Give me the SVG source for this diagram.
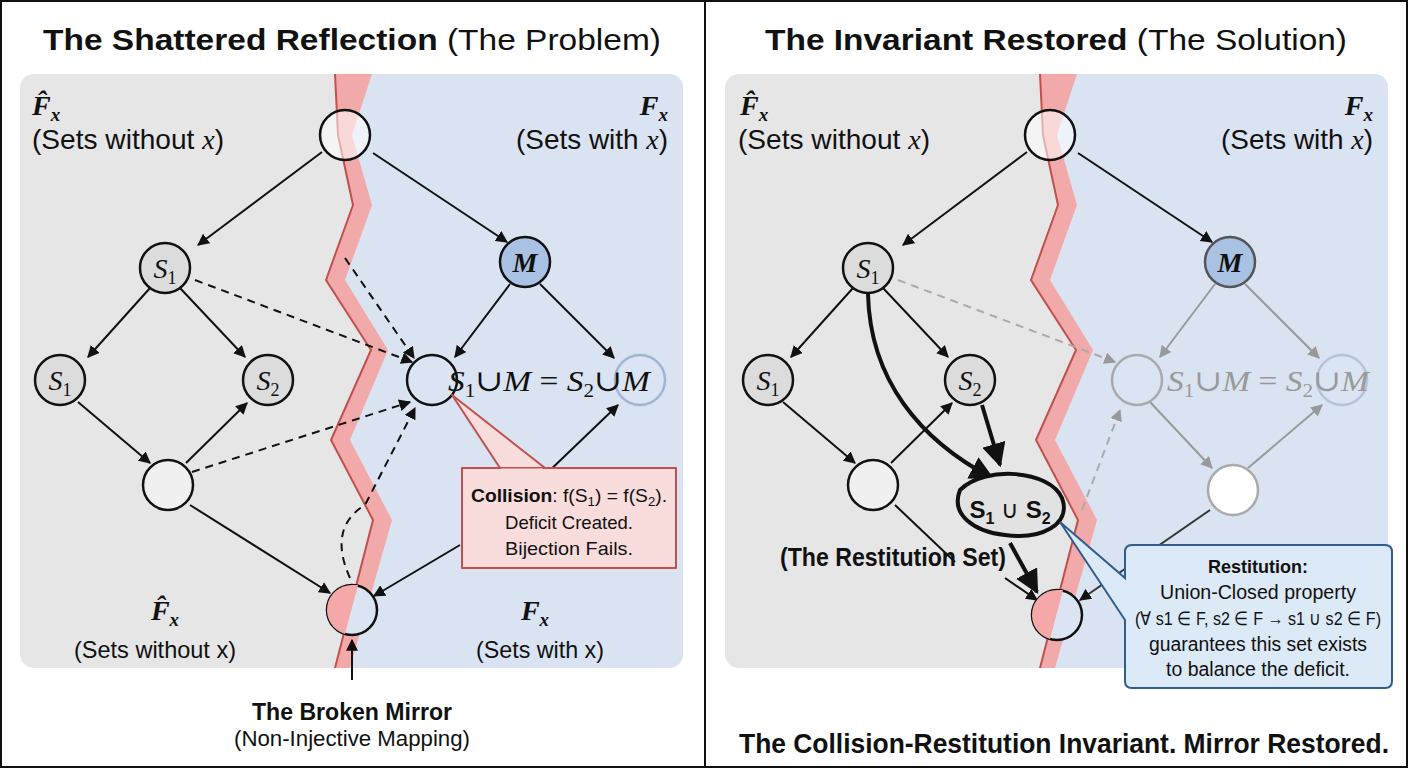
<svg xmlns="http://www.w3.org/2000/svg" width="1408" height="768" viewBox="0 0 1408 768">
<defs>
<style>
text{font-family:"Liberation Sans",Arial,sans-serif;fill:#111}
.m{font-family:"Liberation Serif","DejaVu Serif",serif;font-style:italic}
.e{stroke:#111;stroke-width:2;fill:none;marker-end:url(#a)}
.d{stroke:#111;stroke-width:2;fill:none;stroke-dasharray:8 6;marker-end:url(#a)}
.g{stroke:#999;stroke-width:2;fill:none;marker-end:url(#ag)}
.gd{stroke:#aaa;stroke-width:2;fill:none;stroke-dasharray:8 6;marker-end:url(#ag)}
.b{stroke:#111;stroke-width:4;fill:none;marker-end:url(#a)}
.n{stroke:#111;stroke-width:2.5}
.crack{fill:#f2a9a9;stroke:none}
.crackl{fill:none;stroke:#c0504d;stroke-width:2}
</style>
<marker id="a" viewBox="0 0 10 10" refX="9" refY="5" markerWidth="6" markerHeight="6" orient="auto"><path d="M0,0L10,5L0,10z" fill="#111"/></marker>
<marker id="ag" viewBox="0 0 10 10" refX="9" refY="5" markerWidth="6" markerHeight="6" orient="auto"><path d="M0,0L10,5L0,10z" fill="#999"/></marker>
<clipPath id="cl"><rect x="20" y="74" width="663" height="594" rx="14"/></clipPath>
<clipPath id="cr"><rect x="725" y="74" width="663" height="594" rx="14"/></clipPath>
</defs>
<rect width="1408" height="768" fill="#fff"/>
<rect x="1" y="1" width="1406" height="766" fill="none" stroke="#111" stroke-width="2"/>
<line x1="705" y1="0" x2="705" y2="768" stroke="#111" stroke-width="2"/>

<!-- LEFT PANEL -->
<g id="left-bg" clip-path="url(#cl)">
<rect x="20" y="74" width="663" height="594" fill="#e6e6e6"/>
<polygon points="372,74 352,135 372,205 345,280 388,350 350,440 392,520 350,668 683,668 683,74" fill="#d9e3f2"/>
<polygon class="crack" points="335,74 372,74 352,135 372,205 345,280 388,350 350,440 392,520 350,668 335,668 373,520 331,440 371,350 326,280 353,205 338,135"/>
<polyline class="crackl" points="335,74 338,135 353,205 326,280 371,350 331,440 373,520 335,668"/>
</g>
<text x="352" y="50" text-anchor="middle" font-size="30" textLength="618" lengthAdjust="spacingAndGlyphs"><tspan font-weight="bold">The Shattered Reflection</tspan> (The Problem)</text>
<text x="32" y="115" class="m" font-size="28" font-weight="bold">F̂<tspan font-size="19" dy="6">x</tspan></text>
<text x="32" y="149" font-size="28" textLength="192" lengthAdjust="spacingAndGlyphs">(Sets without <tspan class="m">x</tspan>)</text>
<text x="668" y="115" class="m" font-size="28" font-weight="bold" text-anchor="end">F<tspan font-size="19" dy="6">x</tspan></text>
<text x="668" y="149" font-size="28" text-anchor="end" textLength="152" lengthAdjust="spacingAndGlyphs">(Sets with <tspan class="m">x</tspan>)</text>
<text x="165" y="620" class="m" font-size="28" font-weight="bold" text-anchor="middle">F̂<tspan font-size="19" dy="6">x</tspan></text>
<text x="155" y="658" font-size="24" text-anchor="middle" textLength="162" lengthAdjust="spacingAndGlyphs">(Sets without x)</text>
<text x="535" y="620" class="m" font-size="28" font-weight="bold" text-anchor="middle">F<tspan font-size="19" dy="6">x</tspan></text>
<text x="540" y="658" font-size="24" text-anchor="middle" textLength="128" lengthAdjust="spacingAndGlyphs">(Sets with x)</text>

<g id="left-connectors">
<path class="e" d="M322,152L198,245"/>
<path class="e" d="M373,153L507,242"/>
<path class="e" d="M150,288L88,357"/>
<path class="e" d="M180,288L245,357"/>
<path class="e" d="M78,402L150,463"/>
<path class="e" d="M186,463L247,403"/>
<path class="e" d="M190,505L330,593"/>
<path class="e" d="M510,284L455,357"/>
<path class="e" d="M540,284L614,358"/>
<path class="e" d="M545,475L618,405"/>
<path class="e" d="M460,545L374,596"/>
<path class="d" d="M195,280L412,362"/>
<path class="d" d="M345,258L414,358"/>
<path class="d" d="M192,472L410,402"/>
<path class="d" d="M350,578C335,545 340,520 365,505L415,408"/>
<path class="e" d="M352,680L352,640"/>
</g>

<g id="l-top"><circle cx="345" cy="135" r="25" class="n" fill="#fff" fill-opacity="0.55"/></g>
<g id="l-s1"><circle cx="165" cy="268" r="25" class="n" fill="#dcdcdc"/><text x="165" y="278" class="m" font-size="28" text-anchor="middle">S<tspan font-size="18" dy="6" font-style="normal">1</tspan></text></g>
<g id="l-m"><circle cx="525" cy="262" r="25" class="n" fill="#a9c1e3"/><text x="525" y="272" class="m" font-size="28" font-weight="bold" text-anchor="middle">M</text></g>
<g id="l-s1b"><circle cx="60" cy="380" r="25" class="n" fill="#dcdcdc"/><text x="60" y="390" class="m" font-size="28" text-anchor="middle">S<tspan font-size="18" dy="6" font-style="normal">1</tspan></text></g>
<g id="l-s2"><circle cx="268" cy="380" r="25" class="n" fill="#dcdcdc"/><text x="268" y="390" class="m" font-size="28" text-anchor="middle">S<tspan font-size="18" dy="6" font-style="normal">2</tspan></text></g>
<g id="l-center"><circle cx="432" cy="380" r="25" class="n" fill="#dbe4f2"/></g>
<g id="l-right"><circle cx="640" cy="380" r="25" stroke="#9fb4d6" stroke-width="2.5" fill="#dbe4f2"/></g>
<text x="448" y="391" class="m" font-size="30" textLength="202" lengthAdjust="spacingAndGlyphs">S<tspan font-size="19" dy="6" font-style="normal">1</tspan><tspan dy="-6" font-style="normal">∪</tspan>M<tspan font-style="normal"> = </tspan>S<tspan font-size="19" dy="6" font-style="normal">2</tspan><tspan dy="-6" font-style="normal">∪</tspan>M</text>
<g id="l-bl"><circle cx="168" cy="485" r="25" class="n" fill="#f0f0f0"/></g>
<g id="l-bottom"><circle cx="352" cy="610" r="25" class="n" fill="#dbe4f2"/><path d="M352,585A25,25 0 0 0 345,634L358,585Z" fill="#f4a8a8"/></g>

<g id="collision">
<path d="M462,468H676V568H462V510ZM500,468L452,395L545,468" fill="#f9dcdc" stroke="#c0504d" stroke-width="2" stroke-linejoin="round"/>
<path d="M501,470L543,470" stroke="#f9dcdc" stroke-width="3"/>
<text x="569" y="502" font-size="19" text-anchor="middle" textLength="196" lengthAdjust="spacingAndGlyphs"><tspan font-weight="bold">Collision</tspan>: f(S<tspan font-size="13" dy="4">1</tspan><tspan dy="-4">) = f(S</tspan><tspan font-size="13" dy="4">2</tspan><tspan dy="-4">).</tspan></text>
<text x="569" y="529" font-size="19" text-anchor="middle" textLength="128" lengthAdjust="spacingAndGlyphs">Deficit Created.</text>
<text x="569" y="555" font-size="19" text-anchor="middle" textLength="128" lengthAdjust="spacingAndGlyphs">Bijection Fails.</text>
</g>
<text x="352" y="720" font-size="23" font-weight="bold" text-anchor="middle" textLength="200" lengthAdjust="spacingAndGlyphs">The Broken Mirror</text>
<text x="352" y="746" font-size="22" text-anchor="middle" textLength="236" lengthAdjust="spacingAndGlyphs">(Non-Injective Mapping)</text>

<!-- RIGHT PANEL -->
<g id="right-bg" clip-path="url(#cr)">
<rect x="725" y="74" width="663" height="594" fill="#e6e6e6"/>
<polygon points="1077,74 1057,135 1077,205 1050,280 1093,350 1055,440 1097,520 1055,668 1388,668 1388,74" fill="#d9e3f2"/>
<polygon class="crack" points="1040,74 1077,74 1057,135 1077,205 1050,280 1093,350 1055,440 1097,520 1055,668 1040,668 1078,520 1036,440 1076,350 1031,280 1058,205 1043,135"/>
<polyline class="crackl" points="1040,74 1043,135 1058,205 1031,280 1076,350 1036,440 1078,520 1040,668"/>
</g>
<text x="1056" y="50" text-anchor="middle" font-size="30" textLength="582" lengthAdjust="spacingAndGlyphs"><tspan font-weight="bold">The Invariant Restored</tspan> (The Solution)</text>
<text x="740" y="115" class="m" font-size="28" font-weight="bold">F̂<tspan font-size="19" dy="6">x</tspan></text>
<text x="738" y="149" font-size="28" textLength="192" lengthAdjust="spacingAndGlyphs">(Sets without <tspan class="m">x</tspan>)</text>
<text x="1373" y="115" class="m" font-size="28" font-weight="bold" text-anchor="end">F<tspan font-size="19" dy="6">x</tspan></text>
<text x="1373" y="149" font-size="28" text-anchor="end" textLength="152" lengthAdjust="spacingAndGlyphs">(Sets with <tspan class="m">x</tspan>)</text>

<g id="right-connectors">
<path class="e" d="M1027,152L903,245"/>
<path class="e" d="M1078,153L1212,242"/>
<path class="e" d="M853,288L791,357"/>
<path class="e" d="M883,288L948,357"/>
<path class="e" d="M783,402L855,463"/>
<path class="e" d="M891,463L952,403"/>
<path d="M895,505L955,562" stroke="#111" stroke-width="2" fill="none"/>
<path class="gd" d="M898,280L1115,362"/>
<path class="g" d="M1215,284L1160,357"/>
<path class="g" d="M1245,284L1319,358"/>
<path class="g" d="M1150,402L1212,468"/>
<path class="g" d="M1248,468L1322,405"/>
<path class="gd" d="M1082,510L1120,410"/>
<path class="b" d="M868,294C870,380 920,440 992,478"/>
<path class="b" d="M982,405L1000,465"/>
<path class="b" d="M1010,543L1037,592"/>
<path class="e" d="M1005,578L1037,600"/>
<path d="M1210,510L1080,600" stroke="#333" stroke-width="2" fill="none" marker-end="url(#a)"/>
</g>

<g id="r-top"><circle cx="1050" cy="135" r="25" class="n" fill="#fff" fill-opacity="0.55"/></g>
<g id="r-s1"><circle cx="868" cy="268" r="25" class="n" fill="#dcdcdc"/><text x="868" y="278" class="m" font-size="28" text-anchor="middle">S<tspan font-size="18" dy="6" font-style="normal">1</tspan></text></g>
<g id="r-m"><circle cx="1230" cy="262" r="25" stroke="#555" stroke-width="2.5" fill="#a9c1e3"/><text x="1230" y="272" class="m" font-size="28" font-weight="bold" text-anchor="middle" fill="#333">M</text></g>
<g id="r-s1b"><circle cx="768" cy="380" r="25" class="n" fill="#dcdcdc"/><text x="768" y="390" class="m" font-size="28" text-anchor="middle">S<tspan font-size="18" dy="6" font-style="normal">1</tspan></text></g>
<g id="r-s2"><circle cx="970" cy="380" r="25" class="n" fill="#dcdcdc"/><text x="970" y="390" class="m" font-size="28" text-anchor="middle">S<tspan font-size="18" dy="6" font-style="normal">2</tspan></text></g>
<g id="r-center"><circle cx="1137" cy="380" r="25" stroke="#aaa" stroke-width="2.5" fill="#dbe4f2"/></g>
<g id="r-right"><circle cx="1342" cy="380" r="25" stroke="#b5c4dc" stroke-width="2.5" fill="#dbe4f2"/></g>
<text x="1167" y="391" class="m" font-size="30" style="fill:#999" textLength="202" lengthAdjust="spacingAndGlyphs">S<tspan font-size="19" dy="6" font-style="normal">1</tspan><tspan dy="-6" font-style="normal">∪</tspan>M<tspan font-style="normal"> = </tspan>S<tspan font-size="19" dy="6" font-style="normal">2</tspan><tspan dy="-6" font-style="normal">∪</tspan>M</text>
<g id="r-bl"><circle cx="873" cy="485" r="25" class="n" fill="#f0f0f0"/></g>
<g id="r-white"><circle cx="1233" cy="490" r="25" stroke="#aaa" stroke-width="2.5" fill="#fff"/></g>
<g id="r-bottom"><circle cx="1057" cy="615" r="25" class="n" fill="#dbe4f2"/><path d="M1057,590A25,25 0 0 0 1050,639L1063,590Z" fill="#f4a8a8"/></g>
<g id="r-union"><path d="M960,490C985,465 1050,470 1062,498C1072,525 1040,540 1005,535C975,532 950,515 960,490Z" fill="#e2e2e2" stroke="#111" stroke-width="4"/>
<text x="1010" y="518" font-size="24" font-weight="bold" text-anchor="middle">S<tspan font-size="16" dy="6">1</tspan><tspan dy="-6" font-weight="normal"> ∪ </tspan>S<tspan font-size="16" dy="6">2</tspan></text></g>
<text x="893" y="566" font-size="25" font-weight="bold" text-anchor="middle" textLength="226" lengthAdjust="spacingAndGlyphs">(The Restitution Set)</text>

<g id="restitution">
<path d="M1137,545H1385Q1392,545 1392,552V681Q1392,688 1385,688H1132Q1125,688 1125,681V620L1060,522L1125,578V552Q1125,545 1132,545Z" fill="#dce9f6" stroke="#2f5d8c" stroke-width="2"/>
<text x="1258" y="573" font-size="19" font-weight="bold" text-anchor="middle" textLength="100" lengthAdjust="spacingAndGlyphs">Restitution:</text>
<text x="1258" y="599" font-size="20" text-anchor="middle" textLength="196" lengthAdjust="spacingAndGlyphs">Union-Closed property</text>
<text x="1258" y="625" font-size="19" text-anchor="middle" textLength="246" lengthAdjust="spacingAndGlyphs">(∀ s1 ∈ F, s2 ∈ F → s1 ∪ s2 ∈ F)</text>
<text x="1258" y="651" font-size="20" text-anchor="middle" textLength="218" lengthAdjust="spacingAndGlyphs">guarantees this set exists</text>
<text x="1258" y="676" font-size="20" text-anchor="middle" textLength="184" lengthAdjust="spacingAndGlyphs">to balance the deficit.</text>
</g>
<text x="1064" y="753" font-size="28" font-weight="bold" text-anchor="middle" textLength="650" lengthAdjust="spacingAndGlyphs">The Collision-Restitution Invariant. Mirror Restored.</text>
</svg>
